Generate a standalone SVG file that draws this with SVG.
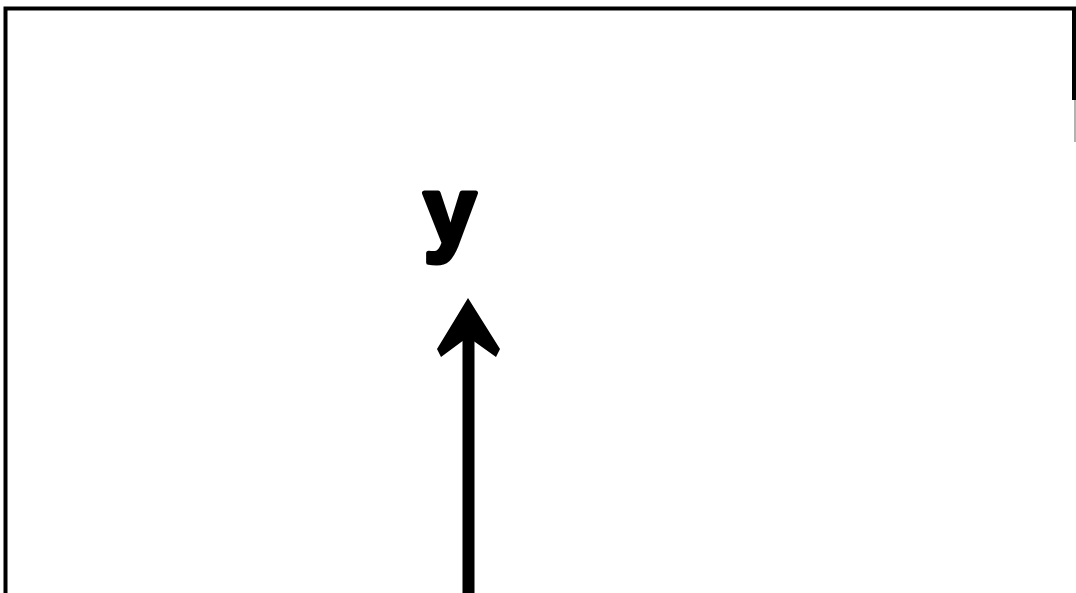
<svg xmlns="http://www.w3.org/2000/svg" width="1076" height="593" viewBox="0 0 1076 593">
<style>
.frame{fill:none;stroke:#000;stroke-width:4}
.lbl{font-family:"Liberation Sans",Arial,sans-serif;font-weight:bold;font-size:94px;fill:#000;stroke:#000;stroke-width:5;stroke-linejoin:round}
</style>
<rect width="1076" height="593" fill="#fff"/>
<g id="frame">
<path class="frame" d="M5.5,593 V8.5 H1074 V100"/>
<line x1="1075" y1="100" x2="1075" y2="142" stroke="#999" stroke-width="1.5"/>
</g>
<g id="label-y">
<text class="lbl" x="450" y="243" text-anchor="middle">y</text>
</g>
<g id="connectors">
<line x1="468.5" y1="335" x2="468.5" y2="593" stroke="#000" stroke-width="12"/>
<polygon points="468,298 500,349 496,357 468,337 441,357 437,349" fill="#000"/>
</g>
</svg>
